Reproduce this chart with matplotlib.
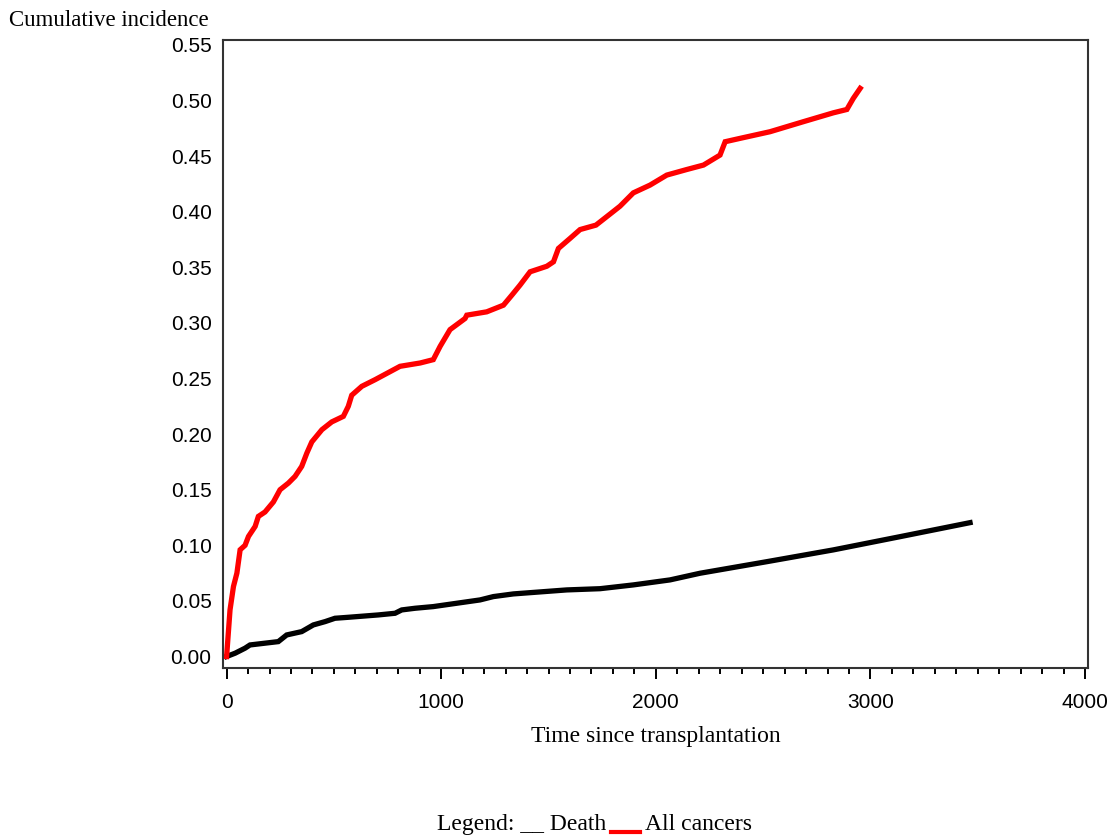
import matplotlib
matplotlib.use("Agg")
from matplotlib import pyplot as plt
import numpy as np

# Cumulative incidence of all cancers
cancer_t = [0, 16, 32, 48, 63, 86, 102, 133, 148, 179, 218, 249, 288, 319, 350,
            374, 397, 444, 490, 544, 567, 583, 630, 692, 808, 902, 963, 995, 1041,
            1111, 1119, 1212, 1290, 1329, 1367, 1414, 1492, 1523, 1546, 1600, 1647,
            1721, 1787, 1833, 1895, 1973, 2051, 2144, 2222, 2299, 2323, 2392, 2532,
            2687, 2827, 2890, 2920, 2952]
cancer_ci = [0.0, 0.042, 0.063, 0.075, 0.096, 0.100, 0.108, 0.117, 0.126, 0.130,
             0.139, 0.150, 0.156, 0.162, 0.171, 0.183, 0.193, 0.204, 0.211, 0.216,
             0.225, 0.235, 0.243, 0.249, 0.261, 0.264, 0.267, 0.279, 0.294, 0.304,
             0.307, 0.310, 0.316, 0.325, 0.334, 0.346, 0.351, 0.355, 0.367, 0.376,
             0.384, 0.388, 0.398, 0.405, 0.417, 0.424, 0.433, 0.438, 0.442, 0.451,
             0.463, 0.466, 0.472, 0.481, 0.489, 0.492, 0.502, 0.511]

# Cumulative incidence of death
death_t = [0, 40, 86, 109, 179, 241, 280, 350, 404, 459, 505, 568, 707, 785, 816,
           878, 963, 1181, 1243, 1336, 1585, 1740, 1895, 2066, 2206, 2517, 2827,
           3138, 3464]
death_ci = [0.0, 0.003, 0.0075, 0.0104, 0.012, 0.0134, 0.0194, 0.0224, 0.0284,
            0.0314, 0.0344, 0.0353, 0.0374, 0.0389, 0.0419, 0.0434, 0.0449, 0.0509,
            0.0539, 0.0563, 0.0599, 0.0610, 0.0644, 0.0689, 0.0749, 0.0853, 0.0959,
            0.1078, 0.1204]

y_ticks = np.arange(0, 0.551, 0.05)
x_ticks = [0, 1000, 2000, 3000, 4000]

fig = plt.figure(figsize=(11.12, 8.4), dpi=100)
ax = fig.add_axes([0.2003, 0.2048, 0.7784, 0.7476])

ax.plot(death_t, death_ci, color='black', lw=3.8, solid_joinstyle='miter')
ax.plot(cancer_t, cancer_ci, color='red', lw=3.8, solid_joinstyle='miter')

ax.set_xlim(-18, 4015)
ax.set_ylim(-0.0103, 0.5545)

for s in ax.spines.values():
    s.set_linewidth(1.5)
    s.set_color('#333333')

ax.set_xticks(x_ticks)
ax.set_xticks(np.arange(0, 4001, 100), minor=True)
ax.tick_params(axis='x', which='major', length=8, width=1.4, direction='out', pad=10)
ax.tick_params(axis='x', which='minor', length=4, width=1.4, direction='out')
ax.set_xticklabels([str(v) for v in x_ticks], family='Liberation Sans', fontsize=15)

ax.set_yticks(y_ticks)
ax.set_yticklabels(['%.2f' % v for v in y_ticks], family='Liberation Sans', fontsize=15)
ax.tick_params(axis='y', length=0, pad=8)

ax.set_xlabel('Time since transplantation', family='Liberation Serif', fontsize=17, labelpad=10)

fig.text(9 / 1112, 1 - 20 / 840, 'Cumulative incidence', family='Liberation Serif',
         fontsize=16.5, va='center', ha='left')

# legend line under the plot
base = 1 - 830 / 840
fig.text(437 / 1112, base, 'Legend: __ Death', family='Liberation Serif',
         fontsize=17, va='baseline', ha='left')
fig.add_artist(plt.Line2D([611 / 1112, 640 / 1112], [1 - 832 / 840, 1 - 832 / 840],
                          color='red', lw=3, transform=fig.transFigure))
fig.text(645 / 1112, base, 'All cancers', family='Liberation Serif',
         fontsize=17, va='baseline', ha='left')

fig.savefig('out.png', dpi=100)
